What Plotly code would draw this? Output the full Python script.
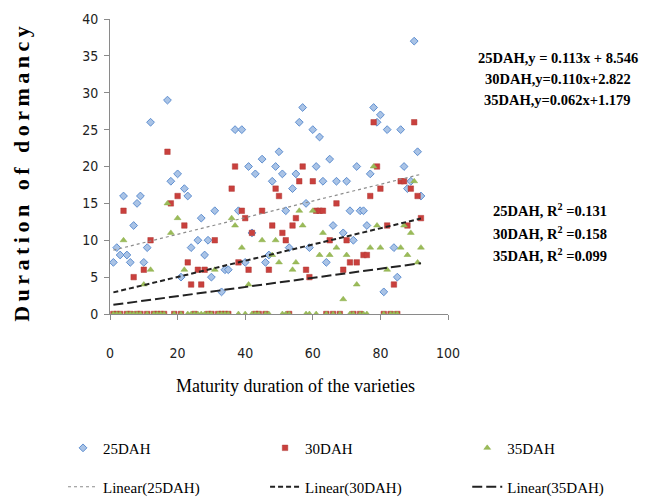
import plotly.graph_objects as go

# Variety index (maturity duration) 1..92
varieties = list(range(1, 93))

x25 = [1,2,3,4,5,6,7,8,9,10,11,12,17,18,20,21,22,23,24,26,27,28,29,30,31,33,34,35,
       37,38,39,40,41,42,43,45,46,47,48,49,50,51,52,53,54,55,56,57,58,59,60,61,62,63,
       64,65,66,67,69,70,71,72,73,74,75,76,77,78,79,80,81,82,84,85,86,87,88,89,90,91,92]
y25 = [7,9,8,16,8,7,12,15,16,7,9,26,29,18,19,5,17,16,9,10,13,8,10,5,14,3,6,6,
       25,14,25,7,20,11,19,21,7,8,18,20,22,19,14,9,17,19,26,28,15,9,25,20,24,18,
       7,21,12,18,11,18,14,10,20,14,14,12,19,28,26,27,3,25,9,5,25,20,17,18,37,22,16]

y30 = [0,0,0,14,0,0,5,0,0,6, 0,10,0,0,0,0,22,15,0,16, 0,12,7,4,0,6,4,6,0,0,
       10,0,0,0,0,17,20,7,14,13, 6,11,0,0,14,0,6,12,17,16, 11,10,0,12,13,18,20,6,5,18,
       14,14,14,0,10,0,15,0,6,10, 7,0,7,0,8,8,16,26,20,17, 0,12,0,4,0,18,18,12,17,26,
       16,13]
y35 = [0,0,0,10,0,0,0,0,0,4, 0,6,0,0,0,0,15,11,0,13, 0,6,0,0,0,0,0,0,0,0,
       6,0,0,0,0,13,12,0,9,0, 4,0,0,0,10,0,0,8,10,7, 0,0,0,6,7,14,12,0,0,14,
       0,8,11,0,8,0,9,0,2,8, 0,0,4,0,0,0,9,20,12,9, 0,6,0,0,0,9,12,8,11,18,
       7,9]

# Trend-line equations (from the chart)
series_names = ["25DAH", "30DAH", "35DAH"]
slopes = [0.113, 0.110, 0.062]
intercepts = [8.546, 2.822, 1.179]
r2_values = ["0.131", "0.158", "0.099"]
eq_labels = ["25DAH,y = 0.113x + 8.546", "30DAH,y=0.110x+2.822", "35DAH,y=0.062x+1.179"]

x_ticks = [0, 20, 40, 60, 80, 100]
y_ticks = [0, 5, 10, 15, 20, 25, 30, 35, 40]

SERIF = "Liberation Serif, Times New Roman, serif"
NARROW = "Liberation Sans Narrow, DejaVu Sans Condensed, Arial Narrow, sans-serif"

fig = go.Figure()

fig.add_trace(go.Scatter(
    x=x25, y=y25, mode="markers", name="25DAH", legend="legend",
    marker=dict(symbol="diamond", size=6, color="#A9C3E6",
                line=dict(color="#5F8FD0", width=1))))
fig.add_trace(go.Scatter(
    x=varieties, y=y30, mode="markers", name="30DAH", legend="legend2",
    marker=dict(symbol="square", size=5.5, color="#C9403D",
                line=dict(color="#B03A37", width=0.5))))
fig.add_trace(go.Scatter(
    x=varieties, y=y35, mode="markers", name="35DAH", legend="legend3",
    marker=dict(symbol="triangle-up", size=6, color="#9BBB59",
                line=dict(color="#8AAE48", width=0.5))))

xmin, xmax = min(varieties), max(varieties)
line_styles = [
    dict(color="#8C8C8C", width=1.2, dash="dot"),
    dict(color="#222222", width=2, dash="5px,3px"),
    dict(color="#222222", width=2, dash="10px,4px"),
]
for i, (name, m, b, ls) in enumerate(zip(series_names, slopes, intercepts, line_styles)):
    fig.add_trace(go.Scatter(
        x=[xmin, xmax], y=[m * xmin + b, m * xmax + b], mode="lines",
        name=f"Linear({name})", legend=f"legend{i + 4}", line=ls))

annotations = []
for i, t in enumerate(eq_labels):
    annotations.append(dict(
        text=f"<b>{t}</b>", xref="paper", yref="paper", x=1.325, y=0.868 - i * 0.071,
        xanchor="center", yanchor="middle", showarrow=False,
        font=dict(family=SERIF, size=14.5, color="#000")))
for i, (n, r) in enumerate(zip(series_names, r2_values)):
    annotations.append(dict(
        text=f"<b>{n}, R<sup>2</sup> ={r}</b>", xref="paper", yref="paper",
        x=1.302, y=0.352 - i * 0.076, xanchor="center", yanchor="middle", showarrow=False,
        font=dict(family=SERIF, size=14.5, color="#000")))
annotations.append(dict(
    text='<b><span style="letter-spacing:4.5px">Duration of dormancy</span></b>',
    xref="paper", yref="paper", x=-0.264, y=0.481, textangle=-90,
    xanchor="center", yanchor="middle", showarrow=False,
    font=dict(family=SERIF, size=22, color="#000")))
annotations.append(dict(
    text="Maturity duration of the varieties", xref="paper", yref="paper",
    x=0.55, y=-0.244, xanchor="center", yanchor="middle", showarrow=False,
    font=dict(family=SERIF, size=18, color="#000")))

axis_common = dict(showgrid=False, zeroline=False, showline=True, linecolor="#8A8A8A",
                   linewidth=1, ticks="outside", ticklen=5, tickcolor="#8A8A8A",
                   tickfont=dict(family=NARROW, size=14, color="#222"))

legend_x = [0.0849, 0.3967, 0.7087]
legend_y = [0.100, 0.0204]
legends = {}
for k in range(6):
    key = "legend" if k == 0 else f"legend{k + 1}"
    legends[key] = dict(orientation="h", xref="container", yref="container",
                        x=legend_x[k % 3], y=legend_y[k // 3],
                        xanchor="left", yanchor="middle",
                        font=dict(family=SERIF, size=15, color="#000"),
                        bgcolor="rgba(0,0,0,0)")

# The page body adds an 8px offset, so the figure is sized to fit the window.
fig.update_layout(
    width=648, height=489,
    margin=dict(l=102, r=208, t=11, b=183, autoexpand=False),
    paper_bgcolor="white", plot_bgcolor="white",
    xaxis=dict(range=[0, 100], tickvals=x_ticks, ticklabelstandoff=21, **axis_common),
    yaxis=dict(range=[0, 40], tickvals=y_ticks, ticklabelstandoff=3, **axis_common),
    annotations=annotations,
    showlegend=True,
    **legends,
)

fig.write_html("out.html")
